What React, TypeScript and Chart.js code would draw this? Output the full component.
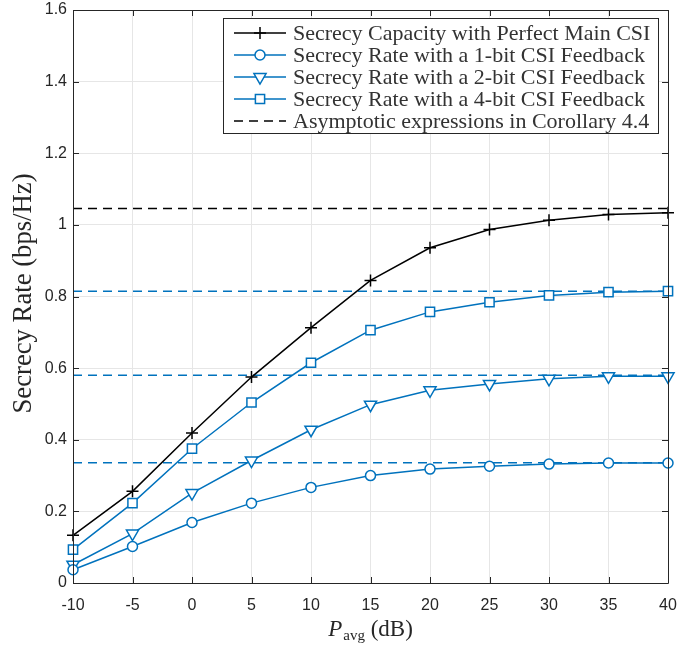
import React, { useEffect, useRef } from "react";
import { Chart, registerables } from "chart.js";

Chart.register(...registerables);

// ---- Data ----
const xValues = [-10, -5, 0, 5, 10, 15, 20, 25, 30, 35, 40];
const perfectCSI = [0.133, 0.256, 0.419, 0.575, 0.713, 0.845, 0.936, 0.987, 1.013, 1.029, 1.034];
const oneBit = [0.037, 0.102, 0.169, 0.223, 0.267, 0.3, 0.318, 0.326, 0.332, 0.335, 0.335];
const twoBit = [0.051, 0.138, 0.251, 0.342, 0.428, 0.498, 0.538, 0.556, 0.57, 0.577, 0.577];
const fourBit = [0.093, 0.223, 0.375, 0.504, 0.615, 0.706, 0.757, 0.784, 0.803, 0.812, 0.815];
const asymptoteLevels = [1.046, 0.815, 0.58, 0.336];
const asymptoteColors = ["#000000", "#0072BD", "#0072BD", "#0072BD"];
const xRange = [-10, 40];
const yRange = [0, 1.6];
const xStep = 5;
const yStep = 0.2;

const legendLabels = [
  "Secrecy Capacity with Perfect Main CSI",
  "Secrecy Rate with a 1-bit CSI Feedback",
  "Secrecy Rate with a 2-bit CSI Feedback",
  "Secrecy Rate with a 4-bit CSI Feedback",
  "Asymptotic expressions in Corollary 4.4",
];
const legendStyles = ["cross", "circle", "triangleDown", "rect", "dash"];
const legendColors = ["#000000", "#0072BD", "#0072BD", "#0072BD", "#000000"];

const yTitle = "Secrecy Rate (bps/Hz)";

const BLUE = "#0072BD";
const AXIS = "#262626";
const SERIF = '"Liberation Serif", "Times New Roman", serif';
const SANS = '"Liberation Sans", Arial, Helvetica, sans-serif';

function pts(ys: number[]) {
  return xValues.map((x, i) => ({ x, y: ys[i] }));
}

function drawMarker(ctx: CanvasRenderingContext2D, style: string, x: number, y: number, color: string) {
  ctx.save();
  ctx.strokeStyle = color;
  ctx.fillStyle = "#ffffff";
  ctx.lineWidth = 1.5;
  ctx.beginPath();
  if (style === "cross") {
    ctx.moveTo(x - 6, y);
    ctx.lineTo(x + 6, y);
    ctx.moveTo(x, y - 6);
    ctx.lineTo(x, y + 6);
    ctx.stroke();
  } else if (style === "circle") {
    ctx.arc(x, y, 5, 0, Math.PI * 2);
    ctx.fill();
    ctx.stroke();
  } else if (style === "triangleDown") {
    const r = 7;
    ctx.moveTo(x, y + r);
    ctx.lineTo(x - r * Math.sin(Math.PI / 3), y - r / 2);
    ctx.lineTo(x + r * Math.sin(Math.PI / 3), y - r / 2);
    ctx.closePath();
    ctx.fill();
    ctx.stroke();
  } else if (style === "rect") {
    const s = 4.6;
    ctx.rect(x - s, y - s, 2 * s, 2 * s);
    ctx.fill();
    ctx.stroke();
  }
  ctx.restore();
}

const framePlugin = {
  id: "matlabFrame",
  afterDatasetsDraw(chart: any) {
    const { ctx, chartArea: a, scales } = chart;
    ctx.save();
    ctx.strokeStyle = AXIS;
    ctx.lineWidth = 1;
    ctx.beginPath();
    ctx.rect(Math.round(a.left) + 0.5, Math.round(a.top) + 0.5, Math.round(a.right - a.left), Math.round(a.bottom - a.top));
    ctx.stroke();
    const tl = 6;
    ctx.beginPath();
    for (let v = xRange[0]; v <= xRange[1] + 1e-9; v += xStep) {
      const px = Math.round(scales.x.getPixelForValue(v)) + 0.5;
      ctx.moveTo(px, a.bottom);
      ctx.lineTo(px, a.bottom - tl);
      ctx.moveTo(px, a.top);
      ctx.lineTo(px, a.top + tl);
    }
    for (let v = yRange[0]; v <= yRange[1] + 1e-9; v += yStep) {
      const py = Math.round(scales.y.getPixelForValue(v)) + 0.5;
      ctx.moveTo(a.left, py);
      ctx.lineTo(a.left + tl, py);
      ctx.moveTo(a.right, py);
      ctx.lineTo(a.right - tl, py);
    }
    ctx.stroke();
    ctx.restore();
  },
  afterDraw(chart: any) {
    const { ctx, chartArea: a } = chart;
    ctx.save();
    // ---- Y title ----
    ctx.fillStyle = AXIS;
    ctx.textAlign = "center";
    ctx.textBaseline = "middle";
    ctx.font = `20px ${SERIF}`;
    const wy = ctx.measureText(yTitle).width;
    const ySize = 20 * (240 / wy);
    ctx.font = `${ySize.toFixed(1)}px ${SERIF}`;
    ctx.translate(24, (a.top + a.bottom) / 2 - 3);
    ctx.rotate(-Math.PI / 2);
    ctx.fillText(yTitle, 0, 0);
    ctx.setTransform(1, 0, 0, 1, 0, 0);

    // ---- X title: P_avg (dB) ----
    const fMain = `italic 23px ${SERIF}`;
    const fSub = `15px ${SERIF}`;
    const fRest = `23px ${SERIF}`;
    ctx.textAlign = "left";
    ctx.textBaseline = "alphabetic";
    ctx.font = fMain;
    const wP = ctx.measureText("P").width;
    ctx.font = fSub;
    const wSub = ctx.measureText("avg").width;
    ctx.font = fRest;
    const wRest = ctx.measureText(" (dB)").width;
    const total = wP + 1 + wSub + wRest;
    let x0 = (a.left + a.right) / 2 - total / 2;
    const base = 636;
    ctx.font = fMain;
    ctx.fillText("P", x0, base);
    x0 += wP + 1;
    ctx.font = fSub;
    ctx.fillText("avg", x0, base + 4);
    x0 += wSub;
    ctx.font = fRest;
    ctx.fillText(" (dB)", x0, base);

    // ---- Legend ----
    const bx = 223.5, by = 18.5, bw = 435, bh = 115;
    ctx.fillStyle = "#ffffff";
    ctx.fillRect(bx, by, bw, bh);
    ctx.strokeStyle = AXIS;
    ctx.lineWidth = 1;
    ctx.strokeRect(bx, by, bw, bh);
    ctx.font = `20px ${SERIF}`;
    const w0 = ctx.measureText(legendLabels[0]).width;
    const lSize = 20 * (357 / w0);
    ctx.font = `${lSize.toFixed(1)}px ${SERIF}`;
    ctx.textBaseline = "middle";
    ctx.textAlign = "left";
    legendLabels.forEach((lab, i) => {
      const cy = 33 + i * 22;
      const col = legendColors[i];
      ctx.strokeStyle = col;
      ctx.lineWidth = 1.5;
      ctx.beginPath();
      if (legendStyles[i] === "dash") ctx.setLineDash([9, 6]);
      ctx.moveTo(234, cy);
      ctx.lineTo(286, cy);
      ctx.stroke();
      ctx.setLineDash([]);
      drawMarker(ctx, legendStyles[i], 260, cy, col);
      ctx.fillStyle = "#333333";
      ctx.fillText(lab, 293, cy + 1);
    });
    ctx.restore();
  },
};

export default function App() {
  const ref = useRef<HTMLCanvasElement | null>(null);

  useEffect(() => {
    if (!ref.current) return;
    const curve = (label: string, ys: number[], color: string, style: string, radius: number, rotation = 0, order = 1) => ({
      label,
      data: pts(ys),
      borderColor: color,
      backgroundColor: "#ffffff",
      borderWidth: 1.5,
      pointStyle: style,
      pointRadius: radius,
      pointRotation: rotation,
      pointBorderColor: color,
      pointBackgroundColor: style === "cross" ? color : "#ffffff",
      pointBorderWidth: 1.5,
      tension: 0,
      clip: false,
      order,
    });
    const asym = asymptoteLevels.map((v, i) => ({
      label: "asym" + i,
      data: [
        { x: xRange[0], y: v },
        { x: xRange[1], y: v },
      ],
      borderColor: asymptoteColors[i],
      borderWidth: 1.5,
      borderDash: [9, 6],
      pointRadius: 0,
      order: 10,
    }));

    const chart = new Chart(ref.current, {
      type: "line",
      data: {
        datasets: [
          curve(legendLabels[0], perfectCSI, "#000000", "cross", 6, 0, 1),
          curve(legendLabels[1], oneBit, BLUE, "circle", 5, 0, 2),
          curve(legendLabels[2], twoBit, BLUE, "triangle", 7, 180, 3),
          curve(legendLabels[3], fourBit, BLUE, "rect", 6.5, 0, 4),
          ...asym,
        ] as any,
      },
      options: {
        animation: false,
        responsive: false,
        devicePixelRatio: 1,
        layout: { padding: { top: 10, right: 10, left: 0, bottom: 0 } },
        plugins: { legend: { display: false }, tooltip: { enabled: false } },
        scales: {
          x: {
            type: "linear",
            min: xRange[0],
            max: xRange[1],
            ticks: {
              stepSize: xStep,
              color: AXIS,
              font: { family: SANS, size: 16 },
              padding: 13,
              maxRotation: 0,
              autoSkip: false,
            },
            grid: { color: "#e6e6e6", drawTicks: false, lineWidth: 1 },
            border: { display: false },
            afterFit: (s: any) => {
              s.height = 65;
              s.paddingLeft = 0;
              s.paddingRight = 0;
              s.paddingTop = 0;
              s.paddingBottom = 0;
            },
          },
          y: {
            type: "linear",
            min: yRange[0],
            max: yRange[1],
            ticks: {
              stepSize: yStep,
              color: AXIS,
              font: { family: SANS, size: 16 },
              padding: 6,
              callback: (v: any) => String(Number(Number(v).toFixed(1))),
            },
            grid: { color: "#e6e6e6", drawTicks: false, lineWidth: 1 },
            border: { display: false },
            afterFit: (s: any) => {
              s.width = 73;
              s.paddingLeft = 0;
              s.paddingRight = 0;
              s.paddingTop = 0;
              s.paddingBottom = 0;
            },
          },
        },
      } as any,
      plugins: [framePlugin],
    });
    return () => chart.destroy();
  }, []);

  return (
    <div style={{ position: "fixed", left: 0, top: 0, width: 678, height: 648, background: "#ffffff" }}>
      <canvas ref={ref} width={678} height={648} style={{ display: "block" }} />
    </div>
  );
}
